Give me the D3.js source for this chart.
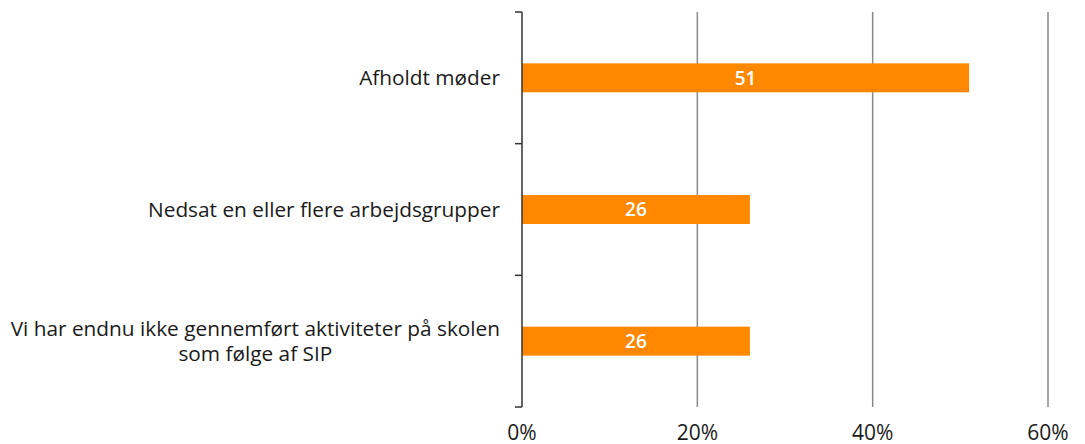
<!DOCTYPE html>
<meta charset="utf-8">
<title>Aktiviteter</title>
<style>
    body { margin: 0; background: #fff; font-family: "Open Sans", "Noto Sans", Arial, sans-serif; }
</style>
<body>
<script src="https://cdn.jsdelivr.net/npm/d3@7"></script>
<script>

    // data
    var categories = [
        ["Afholdt møder"],
        ["Nedsat en eller flere arbejdsgrupper"],
        ["Vi har endnu ikke gennemført aktiviteter på skolen", "som følge af SIP"]
    ];
    var values = [51, 26, 26];
    var xTicks = [0, 20, 40, 60];

    var width = 1085, height = 444;
    var plotLeft = 522, plotRight = 1048, plotTop = 12, plotBottom = 407;

    var svg = d3.select("body").append("svg")
        .attr("width", width)
        .attr("height", height);

    var x = d3.scaleLinear().domain([0, 60]).range([plotLeft, plotRight]);
    var y = d3.scaleBand()
        .domain(d3.range(categories.length))
        .range([plotTop, plotBottom])
        .paddingInner(0.78)
        .paddingOuter(0.39);

    // gridlines
    svg.selectAll("line.grid")
        .data(xTicks.slice(1))
        .enter().append("line")
        .attr("class", "grid")
        .attr("x1", function(d) { return x(d); })
        .attr("x2", function(d) { return x(d); })
        .attr("y1", plotTop)
        .attr("y2", plotBottom)
        .attr("stroke", "#8a8a8a")
        .attr("stroke-width", 1.5);

    // bars
    svg.selectAll("rect.bar")
        .data(values)
        .enter().append("rect")
        .attr("class", "bar")
        .attr("x", x(0))
        .attr("y", function(d, i) { return y(i); })
        .attr("width", function(d) { return x(d) - x(0); })
        .attr("height", y.bandwidth())
        .attr("fill", "#ff8800");

    svg.selectAll("text.val")
        .data(values)
        .enter().append("text")
        .attr("class", "val")
        .attr("x", function(d) { return (x(d) + x(0)) / 2; })
        .attr("y", function(d, i) { return y(i) + y.bandwidth() / 2; })
        .attr("dy", "0.36em")
        .attr("text-anchor", "middle")
        .attr("fill", "#fff")
        .attr("font-size", 19)
        .attr("font-weight", 600)
        .text(function(d) { return d; });

    // y axis with ticks at category boundaries
    var bounds = d3.range(categories.length + 1).map(function(i) { return plotTop + i * (plotBottom - plotTop) / categories.length; });
    svg.append("line")
        .attr("x1", plotLeft).attr("x2", plotLeft)
        .attr("y1", plotTop).attr("y2", plotBottom)
        .attr("stroke", "#333").attr("stroke-width", 1.5);
    svg.selectAll("line.ytick")
        .data(bounds)
        .enter().append("line")
        .attr("class", "ytick")
        .attr("x1", plotLeft - 7).attr("x2", plotLeft)
        .attr("y1", function(d) { return d; })
        .attr("y2", function(d) { return d; })
        .attr("stroke", "#333").attr("stroke-width", 1.5);

    // category labels: block right-aligned at x=500, lines centred in it
    var lab = svg.selectAll("text.cat")
        .data(categories)
        .enter().append("text")
        .attr("class", "cat")
        .attr("text-anchor", "middle")
        .attr("font-size", 20.8)
        .attr("fill", "#1a1a1a");

    lab.each(function(lines, i) {
        var t = d3.select(this);
        var cy = y(i) + y.bandwidth() / 2;
        var lh = 24.5;
        var maxW = 0;
        lines.forEach(function(s, j) {
            var sp = t.append("tspan")
                .attr("x", 0)
                .attr("y", cy + (j - (lines.length - 1) / 2) * lh)
                .attr("dy", "0.36em")
                .text(s);
            maxW = Math.max(maxW, sp.node().getComputedTextLength());
        });
        t.selectAll("tspan").attr("x", 500 - maxW / 2);
    });

    // x tick labels
    svg.selectAll("text.xt")
        .data(xTicks)
        .enter().append("text")
        .attr("class", "xt")
        .attr("x", function(d) { return x(d); })
        .attr("y", 440)
        .attr("text-anchor", "middle")
        .attr("font-size", 21)
        .attr("fill", "#1a1a1a")
        .text(function(d) { return d + "%"; });

</script>
</body>
